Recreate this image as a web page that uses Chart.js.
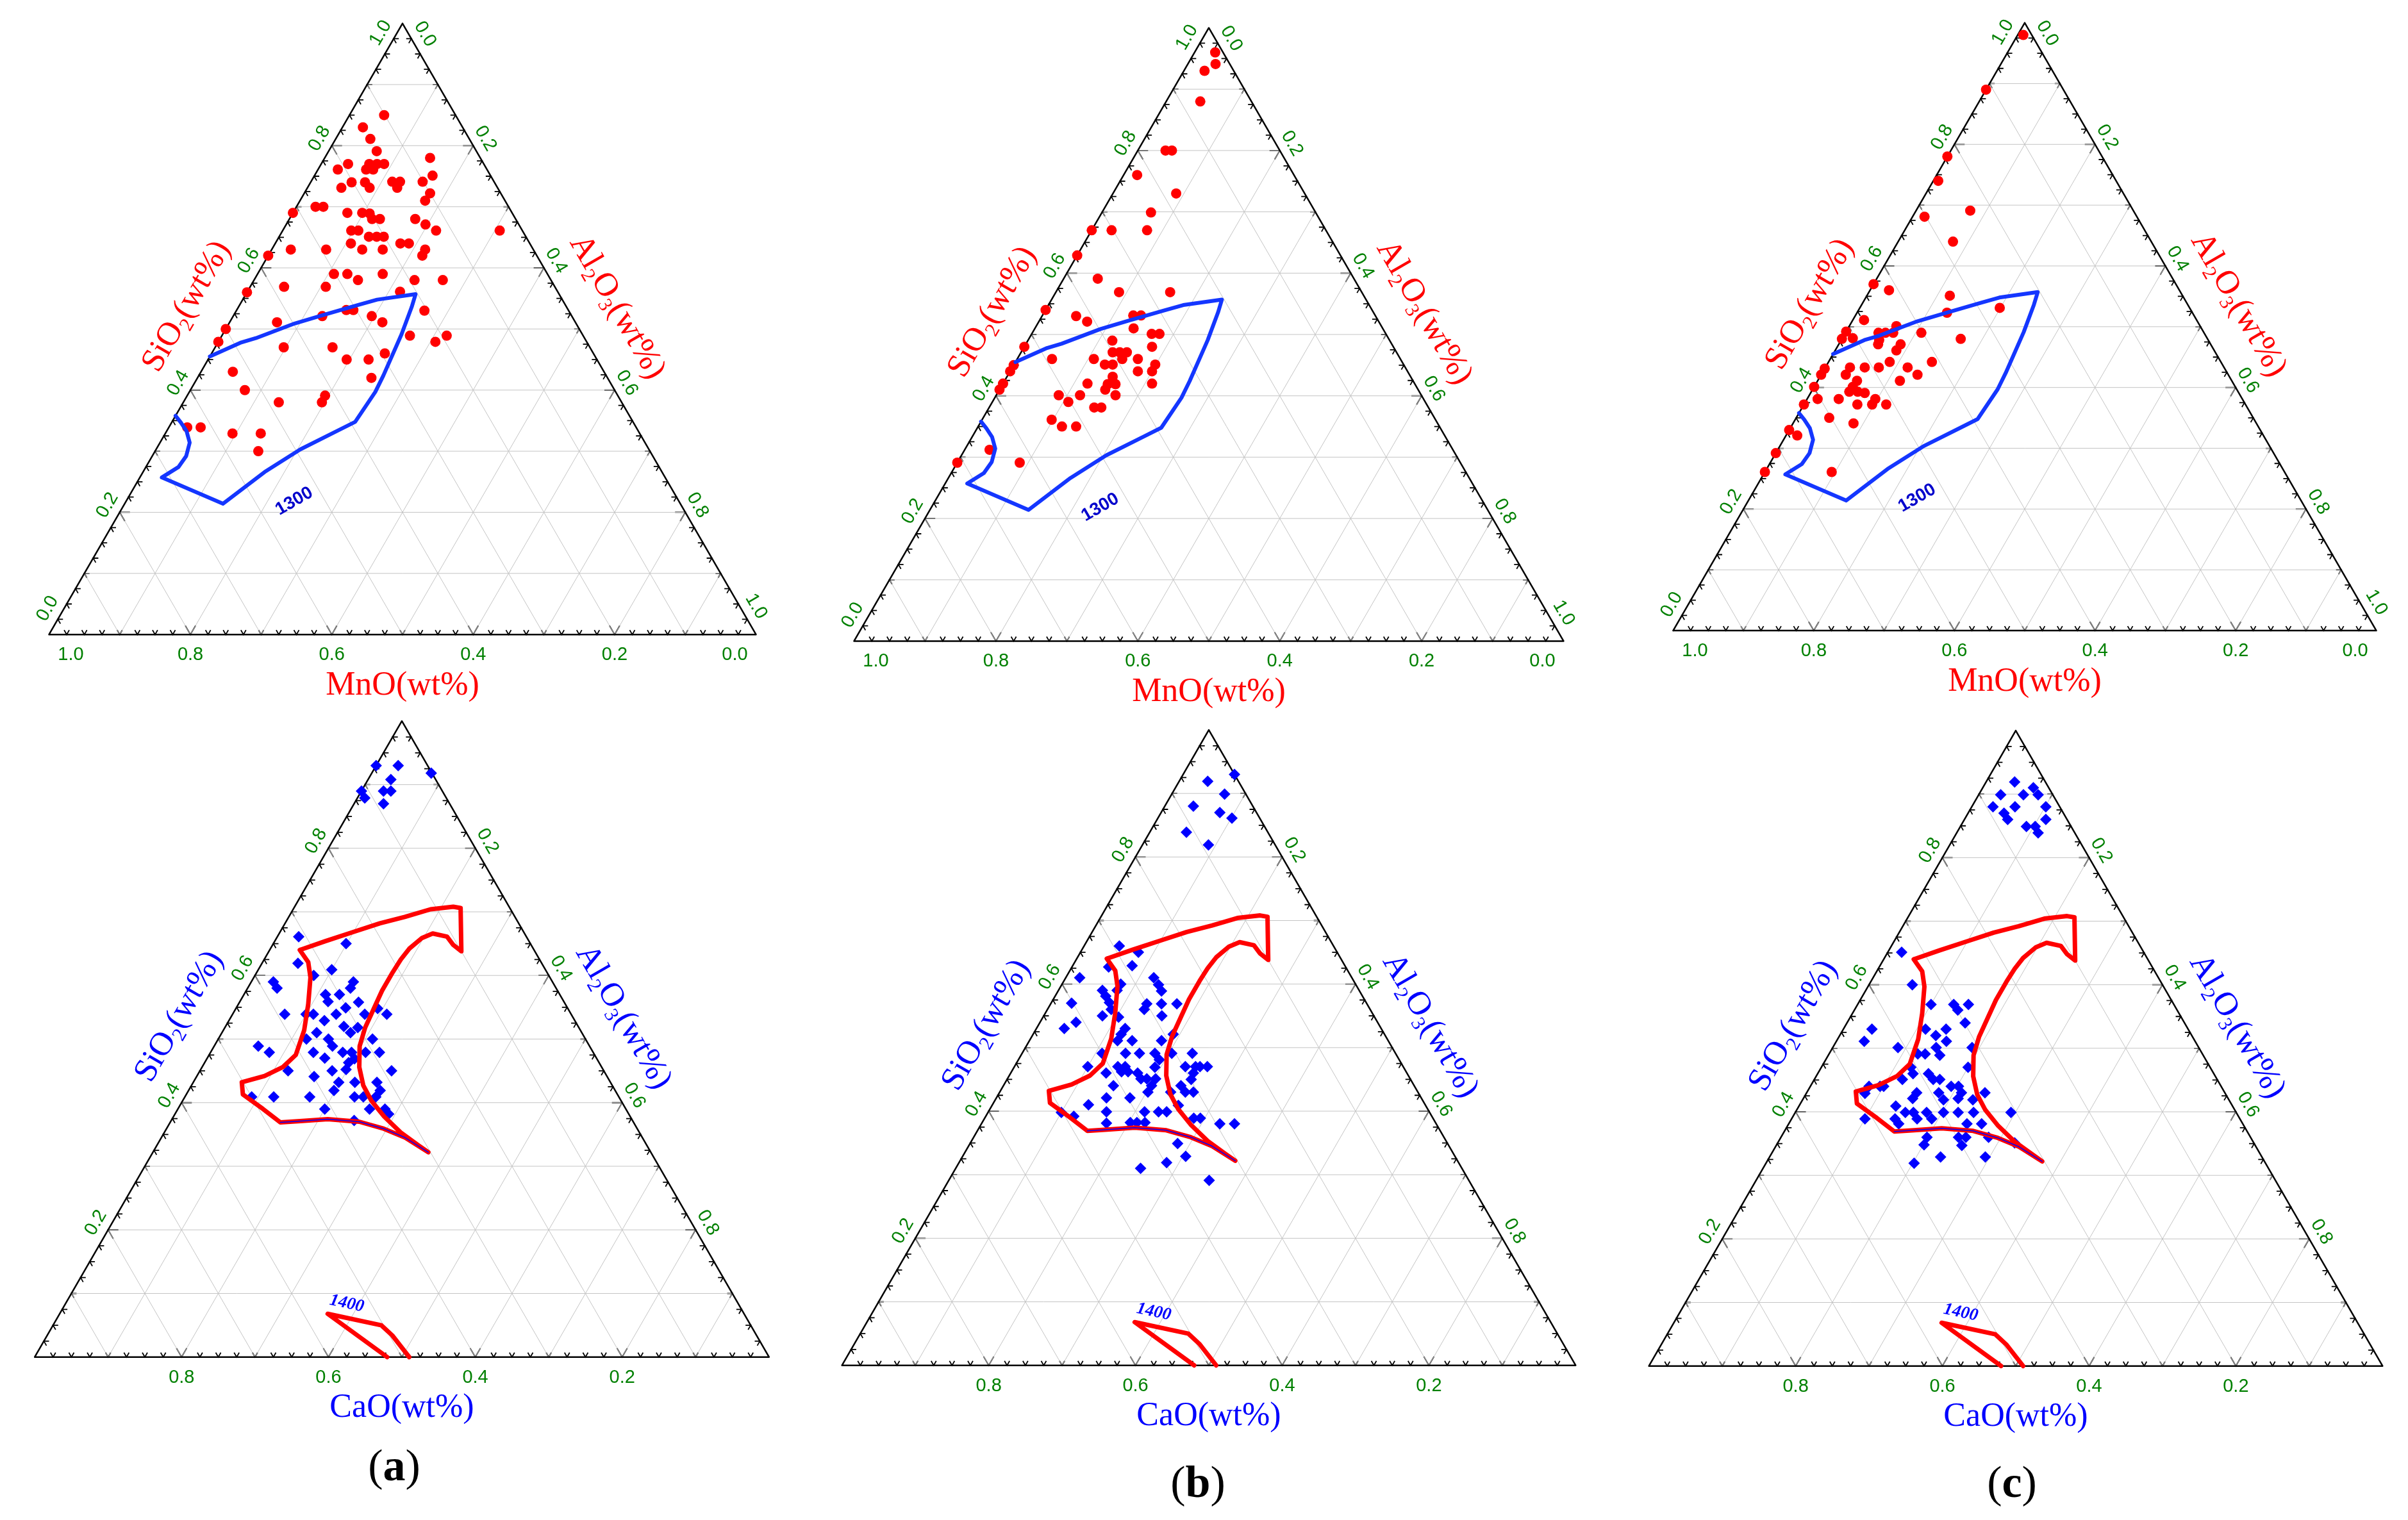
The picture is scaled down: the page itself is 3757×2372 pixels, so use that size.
<!DOCTYPE html>
<html lang="en">
<head>
<meta charset="UTF-8" />
<title>SiO2-Al2O3-MnO / SiO2-Al2O3-CaO ternary diagrams</title>
<script src="https://cdn.jsdelivr.net/npm/chart.js@4"></script>
<style>
  html, body { margin: 0; padding: 0; background: #fff; }
  body { position: relative; width: 3757px; height: 2372px; overflow: hidden; }
  canvas { position: absolute; }
</style>
</head>
<body>
<script>
// ---- data: SiO2 and Al2O3 mass fractions (third oxide = remainder) ----
const mnoA_SiO2 = [0.850, 0.830, 0.811, 0.791, 0.780, 0.770, 0.770, 0.770, 0.770, 0.761,
  0.761, 0.761, 0.751, 0.740, 0.740, 0.741, 0.741, 0.731, 0.741, 0.731,
  0.731, 0.722, 0.710, 0.700, 0.700, 0.690, 0.690, 0.690, 0.689, 0.680,
  0.680, 0.680, 0.671, 0.661, 0.661, 0.661, 0.661, 0.651, 0.651, 0.651,
  0.640, 0.640, 0.640, 0.630, 0.630, 0.630, 0.630, 0.630, 0.620, 0.620,
  0.590, 0.590, 0.580, 0.590, 0.580, 0.580, 0.569, 0.569, 0.560, 0.561,
  0.531, 0.531, 0.521, 0.521, 0.511, 0.530, 0.511, 0.500, 0.479, 0.489,
  0.489, 0.479, 0.470, 0.470, 0.460, 0.450, 0.450, 0.430, 0.420, 0.400,
  0.391, 0.380, 0.380, 0.339, 0.339, 0.329, 0.329, 0.300];
const mnoA_Al2O3 = [0.049, 0.029, 0.049, 0.068, 0.149, 0.038, 0.068, 0.079, 0.089, 0.028,
  0.068, 0.078, 0.167, 0.058, 0.077, 0.115, 0.126, 0.127, 0.158, 0.048,
  0.088, 0.178, 0.177, 0.027, 0.038, 0.000, 0.077, 0.098, 0.109, 0.117,
  0.128, 0.178, 0.197, 0.217, 0.307, 0.097, 0.107, 0.127, 0.138, 0.148,
  0.177, 0.189, 0.107, 0.027, 0.077, 0.128, 0.157, 0.217, 0.218, 0.000,
  0.108, 0.127, 0.147, 0.177, 0.227, 0.267, 0.048, 0.107, 0.000, 0.216,
  0.155, 0.165, 0.126, 0.196, 0.216, 0.266, 0.067, 0.000, 0.000, 0.266,
  0.318, 0.307, 0.097, 0.166, 0.245, 0.196, 0.227, 0.045, 0.246, 0.077,
  0.195, 0.196, 0.135, 0.026, 0.045, 0.095, 0.135, 0.146];

const mnoB_SiO2 = [0.960, 0.941, 0.930, 0.880, 0.800, 0.800, 0.760, 0.730, 0.699, 0.670,
  0.670, 0.670, 0.629, 0.591, 0.569, 0.569, 0.540, 0.530, 0.521, 0.531,
  0.531, 0.510, 0.501, 0.501, 0.490, 0.480, 0.480, 0.471, 0.471, 0.471,
  0.460, 0.460, 0.460, 0.460, 0.450, 0.440, 0.451, 0.451, 0.451, 0.440,
  0.440, 0.431, 0.419, 0.419, 0.410, 0.420, 0.420, 0.420, 0.410, 0.401,
  0.401, 0.401, 0.390, 0.381, 0.381, 0.361, 0.350, 0.350, 0.312, 0.291,
  0.291];
const mnoB_Al2O3 = [0.029, 0.039, 0.029, 0.048, 0.039, 0.048, 0.019, 0.089, 0.069, 0.000,
  0.028, 0.078, 0.000, 0.048, 0.089, 0.161, 0.000, 0.048, 0.068, 0.128,
  0.139, 0.139, 0.169, 0.180, 0.119, 0.000, 0.180, 0.129, 0.139, 0.149,
  0.148, 0.049, 0.108, 0.170, 0.000, 0.000, 0.128, 0.139, 0.199, 0.180,
  0.200, 0.149, 0.148, 0.159, 0.149, 0.119, 0.210, 0.000, 0.000, 0.088,
  0.118, 0.168, 0.107, 0.148, 0.158, 0.098, 0.118, 0.138, 0.035, 0.000,
  0.088];

const mnoC_SiO2 = [0.980, 0.890, 0.780, 0.740, 0.691, 0.681, 0.640, 0.570, 0.560, 0.551,
  0.531, 0.523, 0.511, 0.492, 0.480, 0.481, 0.490, 0.490, 0.490, 0.501,
  0.478, 0.471, 0.490, 0.480, 0.471, 0.461, 0.442, 0.442, 0.431, 0.421,
  0.433, 0.421, 0.433, 0.433, 0.433, 0.421, 0.411, 0.411, 0.401, 0.393,
  0.393, 0.391, 0.401, 0.381, 0.381, 0.372, 0.372, 0.381, 0.372, 0.372,
  0.350, 0.341, 0.330, 0.321, 0.292, 0.261, 0.261];
const mnoC_Al2O3 = [0.008, 0.000, 0.000, 0.007, 0.077, 0.017, 0.078, 0.000, 0.027, 0.118,
  0.199, 0.128, 0.016, 0.000, 0.000, 0.015, 0.047, 0.057, 0.068, 0.067,
  0.054, 0.056, 0.108, 0.169, 0.088, 0.087, 0.087, 0.147, 0.000, 0.000,
  0.035, 0.035, 0.056, 0.076, 0.117, 0.137, 0.117, 0.056, 0.055, 0.054,
  0.066, 0.077, 0.000, 0.015, 0.045, 0.076, 0.097, 0.097, 0.117, 0.000,
  0.047, 0.086, 0.000, 0.016, 0.000, 0.000, 0.095];

const caoA_SiO2 = [0.930, 0.930, 0.918, 0.908, 0.890, 0.879, 0.890, 0.890, 0.870, 0.661,
  0.650, 0.619, 0.609, 0.600, 0.590, 0.580, 0.590, 0.580, 0.570, 0.559,
  0.570, 0.558, 0.549, 0.539, 0.539, 0.548, 0.539, 0.539, 0.539, 0.539,
  0.529, 0.520, 0.510, 0.518, 0.510, 0.500, 0.500, 0.500, 0.489, 0.489,
  0.479, 0.479, 0.479, 0.479, 0.469, 0.463, 0.452, 0.479, 0.479, 0.470,
  0.450, 0.450, 0.450, 0.441, 0.432, 0.419, 0.432, 0.432, 0.419, 0.409,
  0.409, 0.409, 0.409, 0.409, 0.409, 0.390, 0.390, 0.390, 0.382, 0.372];
const caoA_Al2O3 = [0.000, 0.030, 0.081, 0.031, 0.000, 0.010, 0.030, 0.040, 0.040, 0.029,
  0.099, 0.049, 0.100, 0.080, 0.030, 0.040, 0.139, 0.140, 0.111, 0.120,
  0.130, 0.162, 0.149, 0.141, 0.180, 0.193, 0.210, 0.071, 0.100, 0.110,
  0.130, 0.161, 0.175, 0.181, 0.129, 0.120, 0.150, 0.210, 0.161, 0.060,
  0.080, 0.140, 0.180, 0.192, 0.201, 0.196, 0.198, 0.211, 0.230, 0.160,
  0.261, 0.120, 0.180, 0.160, 0.198, 0.198, 0.220, 0.250, 0.261, 0.231,
  0.243, 0.260, 0.170, 0.121, 0.091, 0.200, 0.261, 0.282, 0.291, 0.249];

const caoB_SiO2 = [0.930, 0.919, 0.899, 0.880, 0.870, 0.861, 0.839, 0.819, 0.660, 0.650,
  0.629, 0.627, 0.610, 0.610, 0.599, 0.589, 0.600, 0.590, 0.581, 0.571,
  0.560, 0.590, 0.570, 0.569, 0.560, 0.569, 0.569, 0.550, 0.548, 0.550,
  0.540, 0.530, 0.530, 0.521, 0.511, 0.511, 0.511, 0.521, 0.491, 0.491,
  0.491, 0.491, 0.481, 0.469, 0.491, 0.491, 0.470, 0.470, 0.470, 0.462,
  0.462, 0.460, 0.460, 0.451, 0.451, 0.451, 0.440, 0.430, 0.470, 0.470,
  0.470, 0.460, 0.450, 0.470, 0.440, 0.440, 0.430, 0.430, 0.430, 0.421,
  0.421, 0.410, 0.399, 0.399, 0.399, 0.399, 0.409, 0.389, 0.389, 0.398,
  0.392, 0.381, 0.382, 0.382, 0.382, 0.380, 0.380, 0.349, 0.329, 0.319,
  0.310, 0.291];
const caoB_Al2O3 = [0.070, 0.039, 0.072, 0.039, 0.080, 0.101, 0.050, 0.090, 0.048, 0.079,
  0.081, 0.050, 0.019, 0.120, 0.132, 0.141, 0.080, 0.060, 0.069, 0.079,
  0.087, 0.080, 0.028, 0.131, 0.132, 0.151, 0.172, 0.080, 0.103, 0.161,
  0.049, 0.038, 0.121, 0.120, 0.120, 0.140, 0.180, 0.191, 0.109, 0.141,
  0.160, 0.181, 0.192, 0.192, 0.204, 0.232, 0.100, 0.141, 0.151, 0.150,
  0.159, 0.130, 0.173, 0.182, 0.190, 0.202, 0.202, 0.202, 0.233, 0.247,
  0.253, 0.249, 0.251, 0.263, 0.150, 0.242, 0.253, 0.264, 0.233, 0.150,
  0.182, 0.131, 0.161, 0.213, 0.232, 0.243, 0.254, 0.285, 0.294, 0.100,
  0.120, 0.170, 0.202, 0.211, 0.222, 0.325, 0.345, 0.283, 0.304, 0.283,
  0.252, 0.355];

const caoC_SiO2 = [0.919, 0.899, 0.910, 0.899, 0.899, 0.880, 0.880, 0.870, 0.860, 0.880,
  0.860, 0.849, 0.849, 0.839, 0.651, 0.600, 0.569, 0.569, 0.560, 0.569,
  0.540, 0.530, 0.511, 0.530, 0.530, 0.520, 0.511, 0.501, 0.489, 0.501,
  0.491, 0.491, 0.501, 0.470, 0.470, 0.460, 0.460, 0.451, 0.451, 0.451,
  0.440, 0.440, 0.430, 0.421, 0.430, 0.419, 0.440, 0.440, 0.440, 0.429,
  0.430, 0.421, 0.430, 0.419, 0.409, 0.399, 0.399, 0.389, 0.399, 0.389,
  0.399, 0.399, 0.399, 0.399, 0.389, 0.389, 0.381, 0.381, 0.381, 0.360,
  0.360, 0.347, 0.360, 0.348, 0.360, 0.351, 0.329, 0.329, 0.319];
const caoC_Al2O3 = [0.039, 0.030, 0.069, 0.081, 0.061, 0.029, 0.059, 0.049, 0.059, 0.101,
  0.111, 0.090, 0.102, 0.111, 0.019, 0.059, 0.100, 0.131, 0.141, 0.151,
  0.161, 0.039, 0.038, 0.112, 0.140, 0.131, 0.150, 0.141, 0.152, 0.089,
  0.121, 0.131, 0.190, 0.200, 0.122, 0.130, 0.151, 0.162, 0.171, 0.120,
  0.192, 0.202, 0.211, 0.211, 0.180, 0.192, 0.080, 0.095, 0.100, 0.080,
  0.150, 0.149, 0.243, 0.232, 0.132, 0.150, 0.161, 0.171, 0.179, 0.191,
  0.202, 0.222, 0.243, 0.294, 0.100, 0.141, 0.150, 0.243, 0.263, 0.242,
  0.252, 0.253, 0.199, 0.201, 0.283, 0.323, 0.233, 0.294, 0.202];

// liquidus isotherms
const iso1300_SiO2 = [0.455, 0.478, 0.485, 0.509, 0.523, 0.539, 0.548, 0.557, 0.536, 0.491,
  0.424, 0.397, 0.348, 0.334, 0.303, 0.266, 0.214, 0.257, 0.274, 0.292, 0.314, 0.333, 0.347, 0.358];
const iso1300_Al2O3 = [0.000, 0.033, 0.050, 0.093, 0.127, 0.167, 0.190, 0.240, 0.245, 0.253,
  0.261, 0.263, 0.259, 0.242, 0.204, 0.172, 0.139, 0.031, 0.046, 0.048, 0.042, 0.028, 0.013, 0.000];

const iso1400_SiO2 = [0.640, 0.654, 0.669, 0.682, 0.692, 0.704, 0.708, 0.706, 0.638, 0.648,
  0.661, 0.666, 0.659, 0.642, 0.625, 0.605, 0.576, 0.547, 0.518, 0.489,
  0.456, 0.427, 0.403, 0.378, 0.353, 0.333, 0.322, 0.345, 0.359, 0.370,
  0.374, 0.371, 0.369, 0.390, 0.413, 0.432, 0.442, 0.456, 0.475, 0.514,
  0.555, 0.597, 0.621, 0.640];
const iso1400_Al2O3 = [0.041, 0.069, 0.101, 0.129, 0.158, 0.187, 0.216, 0.227, 0.262, 0.246,
  0.231, 0.209, 0.198, 0.189, 0.186, 0.185, 0.185, 0.188, 0.191, 0.198,
  0.214, 0.234, 0.257, 0.287, 0.322, 0.356, 0.375, 0.332, 0.296, 0.257,
  0.212, 0.176, 0.150, 0.116, 0.077, 0.066, 0.092, 0.110, 0.118, 0.110,
  0.095, 0.077, 0.062, 0.041];
const iso1400low_SiO2 = [0.000, 0.068, 0.050, 0.034, 0.000];
const iso1400low_Al2O3 = [0.480, 0.365, 0.447, 0.470, 0.510];

const gridSteps = [0.1, 0.2, 0.3, 0.4, 0.5, 0.6, 0.7, 0.8, 0.9];
const labelsTop = [0, 0.2, 0.4, 0.6, 0.8, 1.0];
const labelsBottom = [0.2, 0.4, 0.6, 0.8];

// ---- ternary helpers ----
const R3 = Math.sqrt(3) / 2;
const GAP = { x: null, y: null };
const tern = (s, a) => ({ x: a + s / 2, y: s * R3 });
const pointsOf = (si, al) => si.map((s, i) => tern(s, al[i]));

const frame = [tern(0, 0), tern(1, 0), tern(0, 1), tern(0, 0)];
const grid = [];
gridSteps.forEach(v => {
  grid.push(tern(v, 0), tern(v, 1 - v), GAP);
  grid.push(tern(0, v), tern(1 - v, v), GAP);
  grid.push(tern(0, 1 - v), tern(1 - v, 0), GAP);
});

function lineSet(data, color, width, order) {
  return { data, showLine: true, borderColor: color, borderWidth: width, pointRadius: 0,
    pointHoverRadius: 0, tension: 0, fill: false, borderJoinStyle: 'round',
    borderCapStyle: 'round', order, clip: false };
}

const rows = [
  { top: 0, height: 1125, marker: 'circle', radius: 8, color: '#ff0000', titleColor: '#ff0000',
    base: 'MnO', labels: labelsTop,
    lines: [lineSet(pointsOf(iso1300_SiO2, iso1300_Al2O3), '#1436ff', 6, 0)],
    tag: { text: '1300', s: 0.218, a: 0.238, rot: -30, font: 'bold 28px "Liberation Sans"', color: '#0000cc' } },
  { top: 1060, height: 1312, marker: 'rectRot', radius: 9, color: '#0000ff', titleColor: '#0000ff',
    base: 'CaO', labels: labelsBottom,
    lines: [
      lineSet(pointsOf(iso1400_SiO2.slice(26, 33), iso1400_Al2O3.slice(26, 33)), '#0000ff', 1.5, -1),
      lineSet(pointsOf(iso1400_SiO2, iso1400_Al2O3), '#ff0000', 7, 0),
      lineSet(pointsOf(iso1400low_SiO2, iso1400low_Al2O3), '#ff0000', 7, 0)],
    tag: { text: '1400', s: 0.084, a: 0.383, rot: 12, font: 'bold italic 27px "Liberation Serif"', color: '#0000ff' } }
];

const panels = [
  { row: 0, apex: [628, 29], side: 1117, si: mnoA_SiO2, al: mnoA_Al2O3 },
  { row: 0, apex: [1886, 36], side: 1121, si: mnoB_SiO2, al: mnoB_Al2O3 },
  { row: 0, apex: [3159, 28], side: 1111, si: mnoC_SiO2, al: mnoC_Al2O3 },
  { row: 1, apex: [627, 1117], side: 1162, si: caoA_SiO2, al: caoA_Al2O3, letter: 'a', letterAt: [615, 2292] },
  { row: 1, apex: [1886, 1131], side: 1161, si: caoB_SiO2, al: caoB_Al2O3, letter: 'b', letterAt: [1869, 2318] },
  { row: 1, apex: [3145, 1132], side: 1161, si: caoC_SiO2, al: caoC_Al2O3, letter: 'c', letterAt: [3139, 2318] }
];

function pix(chart, s, a) {
  return [chart.scales.x.getPixelForValue(a + s / 2), chart.scales.y.getPixelForValue(s * R3)];
}

function chevron(ctx, p, arms, len) {
  ctx.beginPath();
  ctx.moveTo(p[0] + arms[0][0] * len, p[1] + arms[0][1] * len);
  ctx.lineTo(p[0], p[1]);
  ctx.lineTo(p[0] + arms[1][0] * len, p[1] + arms[1][1] * len);
  ctx.stroke();
}

function rotText(ctx, text, x, y, rot) {
  ctx.save();
  ctx.translate(x, y);
  ctx.rotate(rot);
  ctx.fillText(text, 0, 0);
  ctx.restore();
}

function richText(ctx, segs, x, y, rot, size, color) {
  const main = size + 'px "Liberation Serif"';
  const sub = Math.round(size * 0.6) + 'px "Liberation Serif"';
  ctx.save();
  ctx.translate(x, y);
  ctx.rotate(rot);
  ctx.fillStyle = color;
  ctx.textAlign = 'left';
  ctx.textBaseline = 'middle';
  let w = 0;
  segs.forEach(([t, isSub]) => { ctx.font = isSub ? sub : main; w += ctx.measureText(t).width; });
  let cx = -w / 2;
  segs.forEach(([t, isSub]) => {
    ctx.font = isSub ? sub : main;
    ctx.fillText(t, cx, isSub ? size * 0.3 : 0);
    cx += ctx.measureText(t).width;
  });
  ctx.restore();
}

function makePlugin(p, st, L, T) {
  return {
    id: 'ternaryAxes',
    beforeDatasetsDraw(chart) {
      const ctx = chart.ctx;
      ctx.save();
      ctx.strokeStyle = '#000';
      ctx.lineWidth = 1.8;
      for (let k = 1; k < 40; k++) {
        const v = k / 40;
        const len = k % 8 === 0 ? 16 : 8;
        chevron(ctx, pix(chart, v, 0), [[1, 0], [0.5, R3]], len);
        chevron(ctx, pix(chart, 1 - v, v), [[-1, 0], [-0.5, R3]], len);
        chevron(ctx, pix(chart, 0, v), [[-0.5, -R3], [0.5, -R3]], len);
      }
      ctx.restore();
    },
    afterDatasetsDraw(chart) {
      const ctx = chart.ctx;
      ctx.save();
      ctx.fillStyle = '#008000';
      ctx.font = '29px "Liberation Sans"';
      ctx.textAlign = 'center';
      ctx.textBaseline = 'middle';
      st.labels.forEach(v => {
        const txt = v.toFixed(1);
        let q = pix(chart, v, 0);
        let sh = v === 0 ? 34 : (v === 1 ? -30 : 0);
        rotText(ctx, txt, q[0] - R3 * 22 + 0.5 * sh, q[1] - 0.5 * 22 - R3 * sh, -Math.PI / 3);
        q = pix(chart, 1 - v, v);
        sh = v === 0 ? 32 : (v === 1 ? -38 : 0);
        rotText(ctx, txt, q[0] + R3 * 22 + 0.5 * sh, q[1] - 0.5 * 22 + R3 * sh, Math.PI / 3);
        q = pix(chart, 0, 1 - v);
        sh = v === 1 ? 34 : (v === 0 ? -33 : 0);
        ctx.fillText(txt, q[0] + sh, q[1] + 32);
      });
      ctx.restore();

      let q = pix(chart, 0.5, 0);
      richText(ctx, [['SiO', 0], ['2', 1], ['(wt%)', 0]], q[0] - R3 * 70, q[1] - 0.5 * 70, -Math.PI / 3, 52, st.titleColor);
      q = pix(chart, 0.5, 0.5);
      richText(ctx, [['Al', 0], ['2', 1], ['O', 0], ['3', 1], ['(wt%)', 0]], q[0] + R3 * 68, q[1] - 0.5 * 68, Math.PI / 3, 52, st.titleColor);
      q = pix(chart, 0, 0.5);
      richText(ctx, [[st.base + '(wt%)', 0]], q[0], q[1] + 80, 0, 52, st.titleColor);

      const tg = st.tag;
      q = pix(chart, tg.s, tg.a);
      ctx.save();
      ctx.fillStyle = tg.color;
      ctx.font = tg.font;
      ctx.textAlign = 'center';
      ctx.textBaseline = 'middle';
      rotText(ctx, tg.text, q[0], q[1], tg.rot * Math.PI / 180);
      ctx.restore();

      if (p.letter) {
        const x = p.letterAt[0] - L, y = p.letterAt[1] - T;
        const reg = '70px "Liberation Serif"', bold = 'bold 70px "Liberation Serif"';
        ctx.save();
        ctx.fillStyle = '#000';
        ctx.textBaseline = 'middle';
        ctx.textAlign = 'left';
        ctx.font = reg; const w1 = ctx.measureText('(').width, w3 = ctx.measureText(')').width;
        ctx.font = bold; const w2 = ctx.measureText(p.letter).width;
        let cx = x - (w1 + w2 + w3) / 2;
        ctx.font = reg; ctx.fillText('(', cx, y); cx += w1;
        ctx.font = bold; ctx.fillText(p.letter, cx, y); cx += w2;
        ctx.font = reg; ctx.fillText(')', cx, y);
        ctx.restore();
      }
    }
  };
}

panels.forEach(p => {
  const st = rows[p.row];
  const W = 1280, H = st.height, L = p.apex[0] - 640, T = st.top;
  const canvas = document.createElement('canvas');
  canvas.width = W; canvas.height = H;
  canvas.style.left = L + 'px'; canvas.style.top = T + 'px';
  canvas.style.width = W + 'px'; canvas.style.height = H + 'px';
  document.body.appendChild(canvas);

  const k = p.side;
  const leftX = p.apex[0] - k / 2;
  const baseY = p.apex[1] + k * R3;
  const xMin = (L - leftX) / k;
  const yMin = -(T + H - baseY) / k;

  const datasets = st.lines.map(d => Object.assign({}, d));
  datasets.push({
    data: pointsOf(p.si, p.al), showLine: false, pointStyle: st.marker, pointRadius: st.radius,
    pointHoverRadius: st.radius, pointBackgroundColor: st.color, pointBorderWidth: 0, order: 1, clip: false
  });
  datasets.push(lineSet(frame, '#000000', 2.5, 2));
  datasets.push(lineSet(grid, '#c4c4c4', 1, 3));

  new Chart(canvas, {
    type: 'scatter',
    data: { datasets },
    options: {
      responsive: false,
      maintainAspectRatio: false,
      animation: false,
      devicePixelRatio: 1,
      events: [],
      layout: { padding: 0 },
      plugins: { legend: { display: false }, tooltip: { enabled: false } },
      scales: {
        x: { type: 'linear', display: false, bounds: 'data', min: xMin, max: xMin + W / k },
        y: { type: 'linear', display: false, bounds: 'data', min: yMin, max: yMin + H / k }
      }
    },
    plugins: [makePlugin(p, st, L, T)]
  });
});
</script>
</body>
</html>
